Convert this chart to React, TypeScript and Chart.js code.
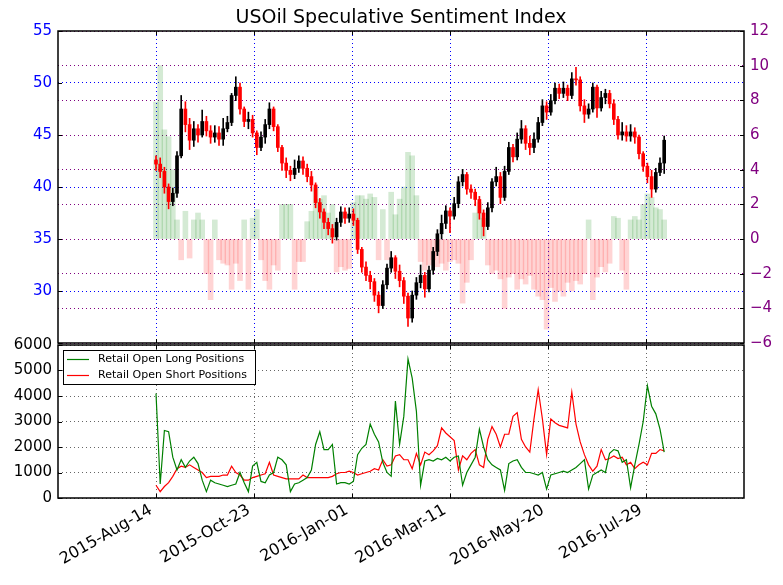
import React, { useEffect, useRef } from 'react';
import { Chart, registerables } from 'chart.js';

Chart.register(...registerables);
Chart.defaults.font.family = '"DejaVu Sans", "Liberation Sans", sans-serif';

const chartTitle = 'USOil Speculative Sentiment Index';
const dayStep = 3; // days between consecutive samples, day 0 = 2015-Aug-14
const tickDays = [0, 70, 140, 210, 280, 350];
const tickLabels = ['2015-Aug-14', '2015-Oct-23', '2016-Jan-01', '2016-Mar-11', '2016-May-20', '2016-Jul-29'];
const seriesNames = ['Retail Open Long Positions', 'Retail Open Short Positions'];

const priceOpen = [
  42.6, 42.2, 41.5, 40.0, 38.6, 39.4, 43.0, 47.5, 46.0, 44.5,
  45.6, 45.0, 46.3, 45.4, 44.8, 45.2, 44.6, 45.6, 46.2, 48.8,
  49.6, 47.5, 46.3, 46.5, 45.2, 43.8, 44.8, 46.0, 47.5, 45.8,
  43.8, 42.3, 41.6, 41.2, 41.8, 42.5, 41.8, 41.0, 40.2, 38.5,
  37.6, 36.6, 36.0, 35.2, 36.6, 37.6, 37.0, 37.4, 36.8, 34.0,
  32.3, 31.5, 30.9, 29.6, 28.6, 30.6, 32.2, 33.2, 31.9, 31.0,
  29.5, 27.4, 29.6, 30.8, 31.5, 30.2, 32.0, 33.8, 35.5, 36.5,
  37.7, 37.2, 38.4, 40.5, 41.2, 39.8, 39.5, 38.8, 37.5, 36.2,
  38.0, 40.5, 41.0, 39.0, 41.5, 43.8, 42.9, 44.6, 45.6, 44.2,
  43.8, 44.6, 46.2, 47.8, 47.2, 48.3, 49.5, 49.0, 49.5, 48.8,
  50.4, 50.3, 47.8, 47.0, 47.5, 49.6, 47.6, 48.6, 49.0, 48.0,
  46.5, 45.0, 45.3, 44.9, 45.3, 44.8, 43.2, 42.0, 41.0, 39.8,
  41.4, 42.3,
];
const priceClose = [
  42.2, 41.5, 40.0, 38.6, 39.4, 43.0, 47.5, 46.0, 44.5, 45.6,
  45.0, 46.3, 45.4, 44.8, 45.2, 44.6, 45.6, 46.2, 48.8, 49.6,
  47.5, 46.3, 46.5, 45.2, 43.8, 44.8, 46.0, 47.5, 45.8, 43.8,
  42.3, 41.6, 41.2, 41.8, 42.5, 41.8, 41.0, 40.2, 38.5, 37.6,
  36.6, 36.0, 35.2, 36.6, 37.6, 37.0, 37.4, 36.8, 34.0, 32.3,
  31.5, 30.9, 29.6, 28.6, 30.6, 32.2, 33.2, 31.9, 31.0, 29.5,
  27.4, 29.6, 30.8, 31.5, 30.2, 32.0, 33.8, 35.5, 36.5, 37.7,
  37.2, 38.4, 40.5, 41.2, 39.8, 39.5, 38.8, 37.5, 36.2, 38.0,
  40.5, 41.0, 39.0, 41.5, 43.8, 42.9, 44.6, 45.6, 44.2, 43.8,
  44.6, 46.2, 47.8, 47.2, 48.3, 49.5, 49.0, 49.5, 48.8, 50.4,
  50.3, 47.8, 47.0, 47.5, 49.6, 47.6, 48.6, 49.0, 48.0, 46.5,
  45.0, 45.3, 44.9, 45.3, 44.8, 43.2, 42.0, 41.0, 39.8, 41.4,
  42.3, 44.5,
];
const priceHigh = [
  43.0, 42.8, 41.9, 40.3, 39.9, 43.4, 48.8, 48.2, 46.6, 46.3,
  46.0, 47.4, 46.8, 45.9, 45.9, 45.8, 46.6, 46.8, 49.0, 50.6,
  50.0, 47.7, 47.2, 46.9, 45.4, 45.3, 46.5, 48.1, 47.7, 46.0,
  44.0, 42.8, 42.0, 42.6, 43.0, 42.9, 42.2, 41.5, 40.4, 38.9,
  37.9, 37.0, 36.4, 37.0, 38.1, 38.0, 38.0, 37.9, 37.0, 34.2,
  32.8, 31.9, 31.2, 29.9, 31.0, 32.6, 33.8, 33.4, 32.5, 31.3,
  29.8, 30.0, 31.3, 32.5, 31.8, 32.4, 34.2, 35.9, 37.3, 38.2,
  38.0, 39.0, 41.0, 41.7, 41.4, 40.2, 39.8, 39.1, 37.8, 38.5,
  40.8, 41.9, 41.4, 42.0, 44.3, 44.1, 45.2, 46.4, 45.9, 44.9,
  45.2, 46.7, 48.4, 48.2, 48.9, 50.0, 49.9, 50.1, 49.8, 51.0,
  51.5, 50.6, 48.4, 48.0, 50.0, 49.8, 49.2, 49.4, 49.3, 48.4,
  46.8, 46.2, 45.9, 46.0, 45.7, 45.0, 43.4, 42.3, 41.6, 41.8,
  42.8, 44.9,
];
const priceLow = [
  41.6, 40.9, 39.4, 37.9, 38.2, 39.0, 42.8, 45.3, 43.6, 43.9,
  44.3, 44.8, 44.9, 44.2, 44.3, 44.0, 44.0, 45.3, 45.9, 48.3,
  47.0, 45.8, 45.6, 44.8, 43.1, 43.5, 44.2, 45.6, 45.4, 43.4,
  41.6, 40.9, 40.6, 40.8, 41.4, 41.2, 40.5, 39.6, 38.0, 37.0,
  36.0, 35.4, 34.6, 34.9, 36.2, 36.5, 36.6, 36.3, 33.6, 31.8,
  31.0, 30.2, 29.0, 27.9, 28.3, 30.2, 31.8, 31.2, 30.4, 28.8,
  26.6, 27.0, 29.2, 30.3, 29.4, 29.9, 31.6, 33.4, 35.0, 36.0,
  35.6, 36.9, 38.0, 40.1, 39.3, 38.9, 38.2, 36.9, 35.3, 35.9,
  37.6, 40.1, 38.4, 38.7, 41.2, 42.4, 42.6, 44.2, 43.6, 43.1,
  43.3, 44.3, 45.9, 46.5, 46.9, 48.0, 48.5, 48.6, 48.3, 48.5,
  49.8, 47.3, 46.2, 46.6, 47.2, 46.7, 47.3, 48.0, 47.6, 46.0,
  44.6, 44.5, 44.4, 44.4, 44.2, 42.7, 41.5, 40.4, 39.0, 39.5,
  41.1, 41.3,
];
const sentiment = [
  7.9, 10.0, 6.3, 5.9, 4.0, 1.1, -1.2, 1.6, -1.1, 1.1,
  1.5, 1.1, -2.0, -3.5, 1.1, -1.2, -1.4, -1.5, -2.9, -1.4,
  -2.4, 1.1, -2.9, 1.2, 1.7, -1.2, -2.4, -2.9, -1.5, -1.8,
  2.0, 2.0, 2.0, -2.9, -1.3, -1.3, 1.0, 1.6, 3.0, 2.3,
  2.5, 1.5, 2.0, -1.9, -1.6, -1.8, -1.7, 2.1, 2.5, 2.5,
  2.3, 2.6, 2.4, -1.2, 1.7, -1.2, 2.7, 1.4, 2.3, 3.0,
  5.0, 4.8, 2.5, -1.3, -1.8, -1.5, -1.2, -1.6, -1.4, -1.8,
  -1.3, -1.2, -1.4, -3.7, -2.5, -1.2, 1.5, 2.1, 1.2, -1.5,
  -2.0, -1.8, -2.3, -4.0, -2.2, -2.0, -2.9, -2.3, -2.6, -2.1,
  -2.9, -3.3, -3.5, -5.2, -2.8, -3.6, -3.0, -3.3, -2.5, -3.0,
  -2.4, -2.6, -2.0, 1.1, -3.5, -2.2, -1.6, -1.9, -1.4, 1.3,
  1.2, -1.8, -2.9, 1.1, 1.3, 1.1, 2.0, 2.6, 2.4, 1.8,
  1.7, 1.1,
];
const longPositions = [
  4100, 550, 2650, 2600, 1600, 1100, 1500, 1200, 1450, 1600,
  1350, 700, 250, 700, 600, 550, 500, 450, 500, 550,
  1000, 600, 250, 1250, 1400, 650, 600, 900, 1000, 1600,
  1500, 1300, 250, 550, 600, 700, 800, 1100, 2100, 2600,
  1900, 1900, 2100, 550, 600, 600, 550, 650, 1700, 1950,
  2100, 2900, 2500, 2200, 1400, 1000, 850, 3800, 2100, 3200,
  5450, 4700, 3400, 500, 1450, 1500, 1450, 1550, 1500, 1600,
  1450, 1600, 1650, 500, 1000, 1300, 1600, 2700, 2000, 1500,
  1300, 1200, 1100, 300, 1350, 1450, 1500, 1200, 1000, 1000,
  950, 900, 1000, 350, 900, 950, 1000, 1050, 1000, 1100,
  1200, 1350, 1500, 350, 900, 1000, 1100, 1000, 1750, 1900,
  1850, 1400, 1500, 400, 1300, 2100, 3000, 4400, 3600, 3300,
  2700, 1800,
];
const shortPositions = [
  500, 250, 450, 600, 850, 1150, 1250, 1200, 1300, 1200,
  1100, 1000, 800, 850, 850, 850, 900, 900, 1250, 1000,
  900, 700, 700, 800, 850, 900, 950, 1400, 900, 850,
  800, 750, 750, 750, 750, 900, 800, 800, 800, 800,
  800, 800, 850, 950, 1000, 1000, 1050, 1000, 900, 950,
  1000, 1050, 1150, 1100, 1500, 1250, 1300, 1650, 1700, 1500,
  1500, 1150, 1750, 1300, 1800, 1700, 1850, 2050, 2750, 2550,
  2400, 2250, 1100, 1650, 1500, 1750, 1900, 1300, 1200, 2300,
  2800, 2500, 2000, 2500, 2500, 3200, 3350, 2300, 2000, 1800,
  3100, 4250, 3100, 1700, 3100, 2950, 2850, 2800, 2750, 4150,
  2900, 2200, 1700, 1300, 1050, 1250, 1900, 1500, 1550, 1650,
  1550, 1600, 1300, 1400, 1150, 1300, 1400, 1300, 1750, 1750,
  1900, 1850,
];

const X_MIN = -70;
const X_MAX = 420;
const LEFT_W = 58;
const RIGHT_W = 39;
const BLUE = '#0000ff';
const PURPLE = '#800080';
const GREEN = '#008000';
const RED = '#ff0000';

const dayOf = (i: number) => i * dayStep;
const setTicks = (scale: any) => {
  scale.ticks = tickDays.map((v) => ({ value: v }));
};
const minusFmt = (v: any) => (Number(v) < 0 ? '\u2212' + Math.abs(Number(v)) : String(v));

function drawInsideTicks(chart: any, sides: { x?: boolean; left?: string; right?: string }) {
  const { ctx, chartArea } = chart;
  const { left, right, top, bottom } = chartArea;
  ctx.save();
  ctx.strokeStyle = '#000';
  ctx.lineWidth = 1;
  ctx.setLineDash([]);
  ctx.beginPath();
  if (sides.x) {
    const xs = chart.scales.x;
    tickDays.forEach((d) => {
      const px = Math.round(xs.getPixelForValue(d)) + 0.5;
      ctx.moveTo(px, top);
      ctx.lineTo(px, top + 4);
      ctx.moveTo(px, bottom);
      ctx.lineTo(px, bottom - 4);
    });
  }
  if (sides.left) {
    const s = chart.scales[sides.left];
    s.ticks.forEach((t: any) => {
      const py = Math.round(s.getPixelForValue(t.value)) + 0.5;
      ctx.moveTo(left, py);
      ctx.lineTo(left + 4, py);
    });
  }
  if (sides.right) {
    const s = chart.scales[sides.right];
    s.ticks.forEach((t: any) => {
      const py = Math.round(s.getPixelForValue(t.value)) + 0.5;
      ctx.moveTo(right, py);
      ctx.lineTo(right - 4, py);
    });
  }
  ctx.stroke();
  ctx.lineWidth = 1.5;
  ctx.strokeRect(left, top, right - left, bottom - top);
  ctx.restore();
}

function TopChart() {
  const ref = useRef<HTMLCanvasElement>(null);
  useEffect(() => {
    if (!ref.current) return;
    const candleColor = priceClose.map((c, i) => (c >= priceOpen[i] ? '#000000' : RED));
    const chart = new Chart(ref.current, {
      type: 'bar',
      data: {
        datasets: [
          {
            data: sentiment.map((v, i) => ({ x: dayOf(i), y: v })) as any,
            yAxisID: 'yR',
            backgroundColor: sentiment.map((v) => (v >= 0 ? 'rgba(0,128,0,0.17)' : 'rgba(255,0,0,0.17)')),
            borderWidth: 0,
            barThickness: 5,
            grouped: false,
            order: 3,
          },
          {
            data: priceHigh.map((h, i) => ({ x: dayOf(i), y: [priceLow[i], h] })) as any,
            yAxisID: 'yL',
            backgroundColor: candleColor,
            borderWidth: 0,
            barThickness: 1,
            grouped: false,
            order: 2,
          },
          {
            data: priceClose.map((c, i) => ({ x: dayOf(i), y: [priceOpen[i], c] })) as any,
            yAxisID: 'yL',
            backgroundColor: candleColor,
            borderWidth: 0,
            barThickness: 3,
            grouped: false,
            order: 1,
          },
        ],
      },
      options: {
        animation: false,
        responsive: false,
        events: [],
        layout: { padding: { top: 31, left: 0, right: 0, bottom: 0 } },
        plugins: { legend: { display: false }, tooltip: { enabled: false }, title: { display: false } },
        scales: {
          x: {
            type: 'linear',
            min: X_MIN,
            max: X_MAX,
            offset: false,
            afterBuildTicks: setTicks,
            afterFit: (s: any) => { s.height = 17; },
            ticks: { display: false },
            grid: { color: BLUE, lineWidth: 1, drawTicks: false, offset: false },
            border: { display: false, dash: [1, 3] },
          },
          yL: {
            type: 'linear',
            position: 'left',
            min: 25,
            max: 55,
            afterFit: (s: any) => { s.width = LEFT_W; },
            ticks: { stepSize: 5, color: BLUE, font: { size: 15 }, padding: 6, callback: (v: any) => (Number(v) === 25 ? '' : String(v)) },
            grid: { color: BLUE, lineWidth: 1, drawTicks: false },
            border: { display: false, dash: [1, 3] },
          },
          yR: {
            type: 'linear',
            position: 'right',
            min: -6,
            max: 12,
            afterFit: (s: any) => { s.width = RIGHT_W; },
            ticks: { stepSize: 2, color: PURPLE, font: { size: 15 }, padding: 6, callback: minusFmt },
            grid: { color: PURPLE, lineWidth: 1, drawTicks: false },
            border: { display: false, dash: [1, 3] },
          },
        },
      } as any,
      plugins: [
        {
          id: 'topDecor',
          afterDraw(c: any) {
            drawInsideTicks(c, { x: true, left: 'yL', right: 'yR' });
            const { ctx, chartArea } = c;
            ctx.save();
            ctx.fillStyle = '#000';
            ctx.font = '19px "DejaVu Sans", sans-serif';
            ctx.textAlign = 'center';
            ctx.textBaseline = 'middle';
            ctx.fillText(chartTitle, (chartArea.left + chartArea.right) / 2, 18);
            ctx.restore();
          },
        },
      ],
    });
    return () => chart.destroy();
  }, []);
  return <canvas ref={ref} width={783} height={360} style={{ position: 'absolute', left: 0, top: 0 }} />;
}

function BottomChart() {
  const ref = useRef<HTMLCanvasElement>(null);
  useEffect(() => {
    if (!ref.current) return;
    const colors = [GREEN, RED];
    const chart = new Chart(ref.current, {
      type: 'line',
      data: {
        datasets: [
          {
            label: seriesNames[0],
            data: longPositions.map((v, i) => ({ x: dayOf(i), y: v })) as any,
            borderColor: GREEN,
            borderWidth: 1.2,
            pointRadius: 0,
            tension: 0,
          },
          {
            label: seriesNames[1],
            data: shortPositions.map((v, i) => ({ x: dayOf(i), y: v })) as any,
            borderColor: RED,
            borderWidth: 1.2,
            pointRadius: 0,
            tension: 0,
          },
        ],
      },
      options: {
        animation: false,
        responsive: false,
        events: [],
        layout: { padding: { top: 13, left: 0, right: RIGHT_W, bottom: 0 } },
        plugins: { legend: { display: false }, tooltip: { enabled: false }, title: { display: false } },
        scales: {
          x: {
            type: 'linear',
            min: X_MIN,
            max: X_MAX,
            afterBuildTicks: setTicks,
            afterFit: (s: any) => { s.height = 87; },
            ticks: { display: false },
            grid: { color: 'rgba(0,0,0,0.6)', lineWidth: 1, drawTicks: false },
            border: { display: false, dash: [1, 3] },
          },
          y: {
            type: 'linear',
            position: 'left',
            min: 0,
            max: 6000,
            afterFit: (s: any) => { s.width = LEFT_W; },
            ticks: { stepSize: 1000, color: '#000', font: { size: 15 }, padding: 6, callback: (v: any) => String(v) },
            grid: { color: 'rgba(0,0,0,0.6)', lineWidth: 1, drawTicks: false },
            border: { display: false, dash: [1, 3] },
          },
        },
      } as any,
      plugins: [
        {
          id: 'bottomDecor',
          afterDraw(c: any) {
            drawInsideTicks(c, { x: true, left: 'y' });
            const { ctx, chartArea } = c;
            const xs = c.scales.x;
            // rotated date labels (30 degrees, right-aligned to the tick)
            ctx.save();
            ctx.fillStyle = '#000';
            ctx.font = '16px "DejaVu Sans", sans-serif';
            ctx.textAlign = 'right';
            ctx.textBaseline = 'middle';
            tickDays.forEach((d, k) => {
              const px = xs.getPixelForValue(d);
              ctx.save();
              ctx.translate(px - 5, chartArea.bottom + 11);
              ctx.rotate(-Math.PI / 6);
              ctx.fillText(tickLabels[k], 0, 0);
              ctx.restore();
            });
            ctx.restore();
            // legend box
            const bx = chartArea.left + 5;
            const by = chartArea.top + 5;
            ctx.save();
            ctx.fillStyle = '#fff';
            ctx.fillRect(bx, by, 192, 34);
            ctx.strokeStyle = '#000';
            ctx.lineWidth = 1;
            ctx.strokeRect(bx + 0.5, by + 0.5, 192, 34);
            ctx.font = '11px "DejaVu Sans", sans-serif';
            ctx.textBaseline = 'middle';
            ctx.textAlign = 'left';
            seriesNames.forEach((name, k) => {
              const ly = by + 9.5 + k * 16;
              ctx.strokeStyle = colors[k];
              ctx.lineWidth = 1.2;
              ctx.beginPath();
              ctx.moveTo(bx + 4, ly);
              ctx.lineTo(bx + 26, ly);
              ctx.stroke();
              ctx.fillStyle = '#000';
              ctx.fillText(name, bx + 35, ly);
            });
            ctx.restore();
          },
        },
      ],
    });
    return () => chart.destroy();
  }, []);
  return <canvas ref={ref} width={783} height={255} style={{ position: 'absolute', left: 0, top: 330 }} />;
}

export default function App() {
  return (
    <div style={{ position: 'absolute', left: 0, top: 0, width: 783, height: 585, background: '#fff', overflow: 'hidden' }}>
      <TopChart />
      <BottomChart />
    </div>
  );
}
